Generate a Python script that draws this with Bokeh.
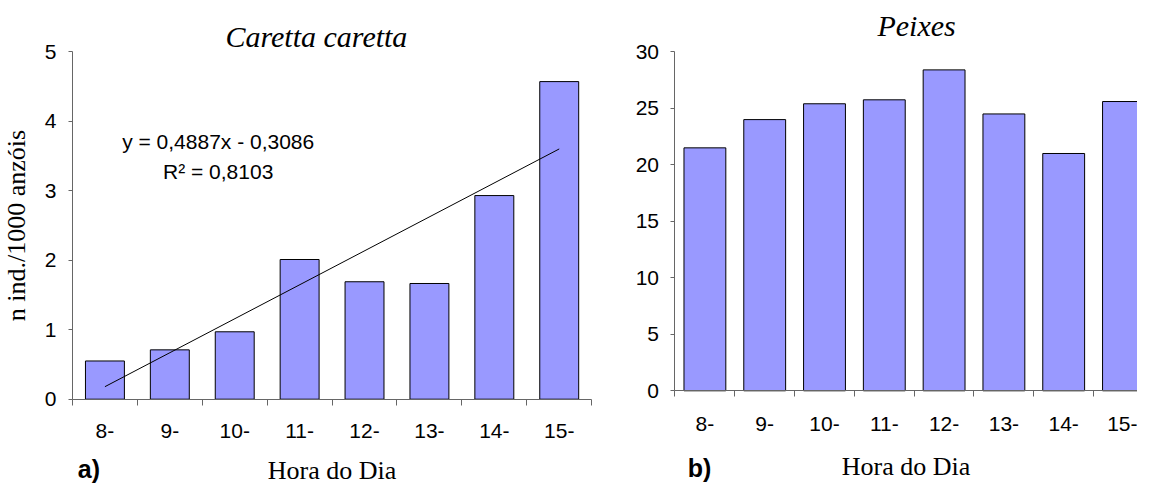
from bokeh.plotting import figure
from bokeh.models import FixedTicker, Label, Range1d, ColumnDataSource
from bokeh.layouts import row
from bokeh.embed import file_html
from bokeh.resources import INLINE

# ---------------- data ----------------
hours = ["8-", "9-", "10-", "11-", "12-", "13-", "14-", "15-"]
caretta = [0.55, 0.71, 0.97, 2.01, 1.69, 1.665, 2.93, 4.57]
peixes = [21.5, 24.0, 25.4, 25.75, 28.4, 24.5, 21.0, 25.6]
trend_slope = 0.4887
trend_intercept = -0.3086
caretta_ticks = [0, 1, 2, 3, 4, 5]
peixes_ticks = [0, 5, 10, 15, 20, 25, 30]

xs = list(range(1, len(hours) + 1))
bounds = [i + 0.5 for i in range(len(hours) + 1)]
labels = {x: h for x, h in zip(xs, hours)}

BAR = "#9999FF"
AX = "#666666"
SANS = "Liberation Sans"
SERIF = "Liberation Serif"


def style(p, yticks, xstand, xlab_stand):
    p.grid.visible = False
    p.outline_line_color = None
    xa = p.xaxis[0]
    xa.fixed_location = yticks[0]
    xa.bounds = (bounds[0], bounds[-1])
    xa.ticker = FixedTicker(ticks=xs, minor_ticks=bounds)
    xa.major_label_overrides = labels
    xa.major_tick_line_color = None
    xa.major_tick_out = 0
    xa.major_tick_in = 0
    xa.minor_tick_out = 6
    xa.minor_tick_in = 0
    xa.minor_tick_line_color = AX
    xa.axis_line_color = AX
    xa.major_label_text_font = SANS
    xa.major_label_text_font_size = "21px"
    xa.major_label_text_color = "black"
    xa.major_label_standoff = xstand
    xa.axis_label = "Hora do Dia"
    xa.axis_label_text_font = SERIF
    xa.axis_label_text_font_style = "normal"
    xa.axis_label_text_font_size = "26px"
    xa.axis_label_text_color = "black"
    xa.axis_label_standoff = xlab_stand
    ya = p.yaxis[0]
    ya.fixed_location = bounds[0]
    ya.bounds = (yticks[0], yticks[-1])
    ya.ticker = FixedTicker(ticks=yticks, minor_ticks=[])
    ya.major_tick_out = 4
    ya.major_tick_in = 0
    ya.major_tick_line_color = AX
    ya.axis_line_color = AX
    ya.major_label_text_font = SANS
    ya.major_label_text_font_size = "21px"
    ya.major_label_text_color = "black"
    ya.major_label_standoff = 12


def label(p, x, y, text, font, size, style_="normal", align="center", baseline="middle"):
    p.add_layout(Label(x=x, y=y, text=text, text_font=font, text_font_size=size,
                       text_font_style=style_, text_color="black",
                       text_align=align, text_baseline=baseline))


# ---------------- left panel ----------------
p1 = figure(width=632, height=483, x_range=Range1d(-0.609, 9.129),
            y_range=Range1d(-1.213, 5.737),
            output_backend="svg", toolbar_location=None, min_border=0)
style(p1, caretta_ticks, 19, 14)
p1.yaxis[0].axis_label = "n ind./1000 anzóis"
p1.yaxis[0].axis_label_text_font = SERIF
p1.yaxis[0].axis_label_text_font_style = "normal"
p1.yaxis[0].axis_label_text_font_size = "26px"
p1.yaxis[0].axis_label_text_color = "black"
p1.yaxis[0].axis_label_standoff = 11

src1 = ColumnDataSource(dict(x=xs, top=caretta))
p1.vbar(x="x", top="top", width=0.6, bottom=0, source=src1,
        fill_color=BAR, line_color="black", line_width=1)

tx = [xs[0], xs[-1]]
ty = [trend_slope * v + trend_intercept for v in tx]
p1.line(tx, ty, line_color="black", line_width=1)

label(p1, 2.745, 3.71, "y = 0,4887x - 0,3086", SANS, "21px")
label(p1, 2.745, 3.28, "R² = 0,8103", SANS, "21px")
label(p1, 2.857, 5.214, "Caretta caretta", SERIF, "30px", "italic", "left", "alphabetic")
label(p1, 0.754, -1.199, "a)", SANS, "25px", "bold", "center", "bottom")

# ---------------- right panel ----------------
p2 = figure(width=505, height=483, x_range=Range1d(-0.2107, 8.2343),
            y_range=Range1d(-8.204, 34.54),
            output_backend="svg", toolbar_location=None, min_border=0)
style(p2, peixes_ticks, 20, 18)

src2 = ColumnDataSource(dict(x=xs, top=peixes))
p2.vbar(x="x", top="top", width=0.7, bottom=0, source=src2,
        fill_color=BAR, line_color="black", line_width=1)

label(p2, 3.886, 32.3, "Peixes", SERIF, "30px", "italic", "left", "alphabetic")
label(p2, 0.91, -8.115, "b)", SANS, "25px", "bold", "center", "bottom")

layout = row(p1, p2)
open("out.html", "w").write(file_html(layout, INLINE))
